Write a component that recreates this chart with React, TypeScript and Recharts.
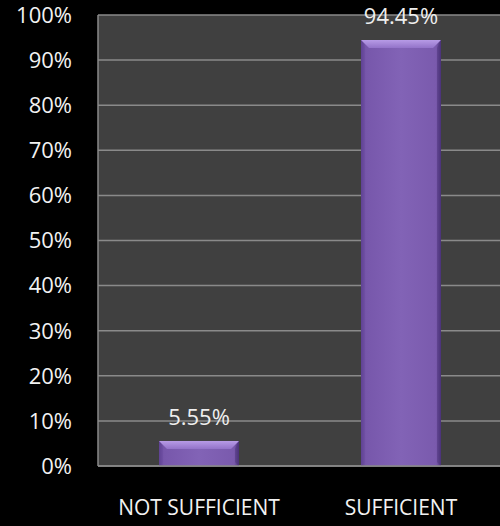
import { BarChart, Bar, XAxis, YAxis, CartesianGrid, LabelList } from "recharts";

const categories = ["NOT SUFFICIENT", "SUFFICIENT"];
const shares = [0.0555, 0.9445];
const yTicks = [0, 0.1, 0.2, 0.3, 0.4, 0.5, 0.6, 0.7, 0.8, 0.9, 1];

const data = categories.map((name, i) => ({ name, value: shares[i] }));

const FONT = "'Open Sans', sans-serif";
const GRID = "#8a8a8a";

// bevelled purple bar, roughly like the office "3D" bar look
const BevelBar = (props: any) => {
  const { x, y, width, height } = props;
  if (width == null || height == null || height <= 0) return null;
  const b = Math.min(8, height / 3);
  const s = 4;
  return (
    <g>
      <rect x={x} y={y} width={width} height={height} fill="url(#barBody)" />
      <polygon
        points={`${x},${y} ${x + width},${y} ${x + width - b},${y + b} ${x + b},${y + b}`}
        fill="url(#barTop)"
      />
      <polygon
        points={`${x},${y} ${x + s},${y + b} ${x + s},${y + height - s} ${x},${y + height}`}
        fill="#6a4ba0"
        opacity={0.35}
      />
      <polygon
        points={`${x + width},${y} ${x + width - s},${y + b} ${x + width - s},${y + height - s} ${x + width},${y + height}`}
        fill="#4c3479"
        opacity={0.45}
      />
    </g>
  );
};

const fmt = (v: number) => `${Math.round(v * 100)}%`;
const fmtLabel = (v: number) => `${(v * 100).toFixed(2)}%`;

export default function App() {
  return (
    <div
      style={{
        position: "fixed",
        left: 0,
        top: 0,
        width: 500,
        height: 526,
        overflow: "hidden",
        background: "#000",
      }}
    >
      <BarChart
        width={502}
        height={526}
        data={data}
        margin={{ top: 15, right: 0, bottom: 0, left: 0 }}
        barCategoryGap={0}
      >
        <defs>
          <linearGradient id="barBody" x1="0" y1="0" x2="1" y2="0">
            <stop offset="0%" stopColor="#5a3e8c" />
            <stop offset="6%" stopColor="#7757ab" />
            <stop offset="50%" stopColor="#8263b6" />
            <stop offset="94%" stopColor="#7a5aad" />
            <stop offset="100%" stopColor="#4a3278" />
          </linearGradient>
          <linearGradient id="barTop" x1="0" y1="0" x2="0" y2="1">
            <stop offset="0%" stopColor="#b79be6" />
            <stop offset="100%" stopColor="#9373c9" />
          </linearGradient>
        </defs>
        <CartesianGrid vertical={false} stroke={GRID} strokeWidth={1.5} fill="#404040" />
        <XAxis
          dataKey="name"
          height={60}
          axisLine={{ stroke: GRID, strokeWidth: 1.5 }}
          tickLine={false}
          tickMargin={28}
          tick={{ fill: "#f2f2f2", fontSize: 21, fontFamily: FONT }}
        />
        <YAxis
          domain={[0, 1]}
          ticks={yTicks}
          tickFormatter={fmt}
          width={98}
          axisLine={{ stroke: GRID, strokeWidth: 1.5 }}
          tickLine={false}
          tickMargin={20}
          tick={{ fill: "#f2f2f2", fontSize: 22, fontFamily: FONT }}
        />
        <Bar dataKey="value" barSize={80} shape={<BevelBar />} isAnimationActive={false}>
          <LabelList
            dataKey="value"
            position="top"
            offset={16}
            formatter={(v: any) => fmtLabel(Number(v))}
            fill="#eeeeee"
            fontSize={22}
            fontFamily={FONT}
          />
        </Bar>
      </BarChart>
    </div>
  );
}
